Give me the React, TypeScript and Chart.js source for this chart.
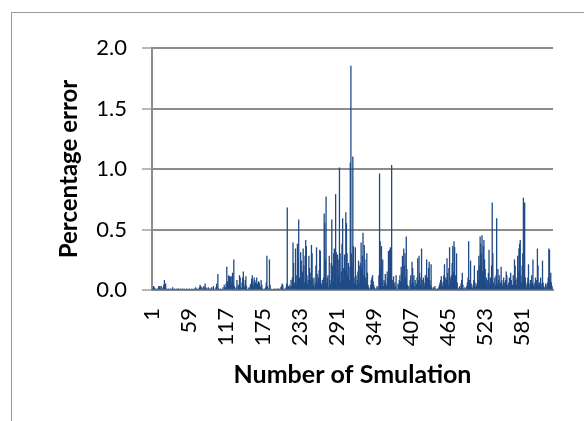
import React, { useEffect, useRef } from "react";
import { Chart, registerables } from "chart.js";

Chart.register(...registerables);

// Percentage error per simulation (index 1..630)
const errA = [
  0.01,0.00,0.03,0.02,0.00,0.01,0.00,0.00,0.01,0.00,
  0.03,0.02,0.03,0.00,0.03,0.01,0.00,0.02,0.04,0.08,
  0.04,0.05,0.01,0.00,0.00,0.01,0.00,0.00,0.01,0.00,
  0.00,0.01,0.02,0.00,0.00,0.01,0.00,0.00,0.00,0.01,
  0.00,0.01,0.00,0.00,0.01,0.00,0.00,0.01,0.00,0.00,
  0.01,0.00,0.00,0.00,0.01,0.00,0.00,0.00,0.01,0.00,
  0.00,0.00,0.01,0.00,0.00,0.00,0.01,0.00,0.02,0.00,
  0.01,0.00,0.00,0.01,0.02,0.04,0.03,0.02,0.01,0.00,
  0.02,0.03,0.01,0.05,0.02,0.01,0.00,0.01,0.02,0.01,
  0.00,0.01,0.00,0.02,0.01,0.00,0.03,0.01,0.00,0.00,
];
const errB = [
  0.02,0.05,0.03,0.13,0.01,0.00,0.00,0.01,0.00,0.00,
  0.00,0.02,0.00,0.04,0.01,0.02,0.05,0.19,0.07,0.03,
  0.12,0.11,0.10,0.11,0.06,0.11,0.14,0.05,0.25,0.03,
  0.00,0.01,0.02,0.08,0.00,0.04,0.03,0.12,0.10,0.02,
  0.01,0.06,0.10,0.15,0.04,0.02,0.08,0.11,0.03,0.00,
  0.00,0.01,0.02,0.01,0.04,0.05,0.09,0.12,0.07,0.04,
  0.10,0.08,0.06,0.03,0.10,0.05,0.04,0.07,0.06,0.03,
  0.02,0.08,0.04,0.01,0.00,0.00,0.01,0.00,0.02,0.06,
  0.28,0.03,0.00,0.01,0.25,0.04,0.01,0.00,0.00,0.00,
  0.00,0.01,0.00,0.00,0.01,0.00,0.00,0.01,0.00,0.01,
];
const errC = [
  0.00,0.00,0.02,0.03,0.05,0.04,0.01,0.00,0.00,0.01,
  0.02,0.05,0.68,0.01,0.03,0.00,0.04,0.02,0.08,0.03,
  0.10,0.39,0.22,0.06,0.04,0.34,0.12,0.05,0.38,0.26,
  0.58,0.10,0.07,0.31,0.24,0.08,0.15,0.34,0.20,0.06,
  0.28,0.41,0.36,0.12,0.05,0.08,0.28,0.18,0.14,0.08,
  0.37,0.30,0.09,0.04,0.10,0.02,0.06,0.20,0.35,0.13,
  0.05,0.10,0.16,0.33,0.32,0.03,0.05,0.08,0.02,0.10,
  0.63,0.55,0.25,0.77,0.06,0.10,0.12,0.02,0.28,0.08,
  0.05,0.22,0.58,0.20,0.07,0.30,0.34,0.10,0.79,0.31,
  0.05,0.29,0.10,0.25,1.01,0.30,0.06,0.15,0.38,0.59,
];
const errD = [
  0.18,0.08,0.29,0.16,0.64,0.55,0.30,0.12,0.22,0.19,
  0.08,1.05,1.85,0.30,0.20,1.10,0.36,0.10,0.05,0.35,
  0.12,0.04,0.08,0.15,0.24,0.06,0.20,0.22,0.39,0.18,
  0.28,0.47,0.12,0.37,0.25,0.10,0.06,0.30,0.14,0.04,
  0.02,0.01,0.00,0.04,0.08,0.10,0.12,0.07,0.04,0.02,
  0.01,0.00,0.01,0.03,0.00,0.02,0.12,0.96,0.40,0.18,
  0.36,0.06,0.25,0.03,0.08,0.06,0.13,0.05,0.03,0.15,
  0.10,0.32,0.30,0.33,0.35,0.20,1.03,0.08,0.04,0.11,
  0.02,0.06,0.03,0.12,0.01,0.00,0.05,0.04,0.08,0.12,
  0.07,0.19,0.14,0.28,0.05,0.34,0.20,0.30,0.10,0.44,
];
const errE = [
  0.17,0.04,0.01,0.03,0.00,0.08,0.12,0.05,0.23,0.18,
  0.06,0.12,0.03,0.08,0.02,0.05,0.10,0.26,0.08,0.28,
  0.14,0.04,0.10,0.34,0.08,0.02,0.10,0.06,0.03,0.12,
  0.05,0.25,0.10,0.06,0.18,0.23,0.08,0.04,0.21,0.02,
  0.00,0.01,0.02,0.00,0.03,0.01,0.00,0.00,0.01,0.00,
  0.02,0.04,0.06,0.08,0.11,0.05,0.03,0.07,0.12,0.21,
  0.05,0.10,0.08,0.26,0.14,0.04,0.18,0.35,0.10,0.06,
  0.12,0.22,0.36,0.15,0.40,0.35,0.12,0.08,0.30,0.06,
  0.02,0.01,0.00,0.03,0.01,0.05,0.08,0.14,0.04,0.01,
  0.00,0.02,0.01,0.00,0.03,0.06,0.10,0.40,0.08,0.03,
];
const errF = [
  0.24,0.05,0.02,0.01,0.04,0.08,0.20,0.06,0.02,0.03,
  0.05,0.16,0.08,0.28,0.20,0.44,0.38,0.30,0.45,0.15,
  0.36,0.41,0.25,0.17,0.06,0.10,0.03,0.08,0.14,0.33,
  0.05,0.10,0.08,0.20,0.72,0.30,0.06,0.02,0.10,0.04,
  0.12,0.59,0.05,0.17,0.08,0.12,0.04,0.06,0.19,0.08,
  0.03,0.05,0.10,0.06,0.02,0.08,0.15,0.12,0.04,0.02,
  0.06,0.10,0.05,0.14,0.08,0.03,0.04,0.12,0.06,0.25,
  0.20,0.08,0.04,0.10,0.28,0.15,0.34,0.38,0.41,0.12,
  0.06,0.20,0.30,0.76,0.40,0.72,0.10,0.04,0.02,0.06,
  0.10,0.21,0.05,0.02,0.08,0.04,0.12,0.06,0.25,0.04,
];
const errG = [
  0.02,0.06,0.10,0.05,0.08,0.34,0.20,0.04,0.06,0.03,
  0.10,0.02,0.05,0.24,0.06,0.03,0.01,0.02,0.05,0.02,
  0.04,0.06,0.10,0.34,0.33,0.08,0.14,0.06,0.03,0.01,
];

const errors = [...errA, ...errB, ...errC, ...errD, ...errE, ...errF, ...errG];
const simulations = errors.map((_, i) => String(i + 1));
const labelStep = 58;
const yTicks = [0, 0.5, 1.0, 1.5, 2.0];

const FONT = "Lato, 'DejaVu Sans', sans-serif";

export default function App() {
  const ref = useRef<HTMLCanvasElement | null>(null);

  useEffect(() => {
    if (!ref.current) return;
    const chart = new Chart(ref.current, {
      type: "bar",
      data: {
        labels: simulations,
        datasets: [
          {
            data: errors,
            backgroundColor: "#1F4A86",
            borderWidth: 0,
            barPercentage: 1,
            categoryPercentage: 1,
          },
        ],
      },
      options: {
        animation: false,
        responsive: false,
        maintainAspectRatio: false,
        layout: { padding: { left: 51, right: 31, top: 48, bottom: 27 } },
        plugins: { legend: { display: false }, tooltip: { enabled: false } },
        scales: {
          x: {
            grid: { display: false, drawTicks: false },
            border: { display: true, color: "#8c8c8c", width: 2 },
            ticks: {
              autoSkip: false,
              minRotation: 90,
              maxRotation: 90,
              padding: 18,
              color: "#000",
              font: { family: FONT, size: 22 },
              callback: (_v: any, i: number) => (i % labelStep === 0 ? simulations[i] : ""),
            },
            title: {
              display: true,
              text: "Number of Smulation",
              color: "#000",
              font: { family: FONT, size: 25, weight: "bold" },
              padding: { top: 4, bottom: 4 },
            },
            afterFit: (s: any) => {
              s.height = 104;
              s.paddingLeft = 0;
              s.paddingRight = 0;
            },
          },
          y: {
            min: 0,
            max: 2,
            afterBuildTicks: (s: any) => {
              s.ticks = yTicks.map((v) => ({ value: v }));
            },
            grid: {
              color: "#8c8c8c",
              lineWidth: 2,
              tickLength: 10,
              tickColor: "#a0a0a0",
              tickWidth: 1.5,
            },
            border: { display: true, color: "#8c8c8c", width: 2 },
            ticks: {
              padding: 15,
              color: "#000",
              font: { family: FONT, size: 22 },
              callback: (v: any) => Number(v).toFixed(1),
            },
            title: {
              display: true,
              text: "Percentage error",
              color: "#000",
              font: { family: FONT, size: 24, weight: "bold" },
              padding: { top: 4, bottom: 4 },
            },
            afterFit: (s: any) => {
              s.width = 101;
              s.paddingTop = 0;
              s.paddingBottom = 0;
            },
          },
        },
      },
    });
    return () => chart.destroy();
  }, []);

  return (
    <div
      style={{
        position: "fixed",
        left: 0,
        top: 0,
        width: 584,
        height: 421,
        overflow: "hidden",
        background: "#fff",
      }}
    >
      <div
        style={{
          position: "absolute",
          left: 11,
          top: 12,
          width: 640,
          height: 500,
          border: "1.5px solid #9a9a9a",
        }}
      />
      <canvas
        ref={ref}
        width={584}
        height={421}
        style={{ position: "absolute", left: 0, top: 0, width: 584, height: 421 }}
      />
    </div>
  );
}
